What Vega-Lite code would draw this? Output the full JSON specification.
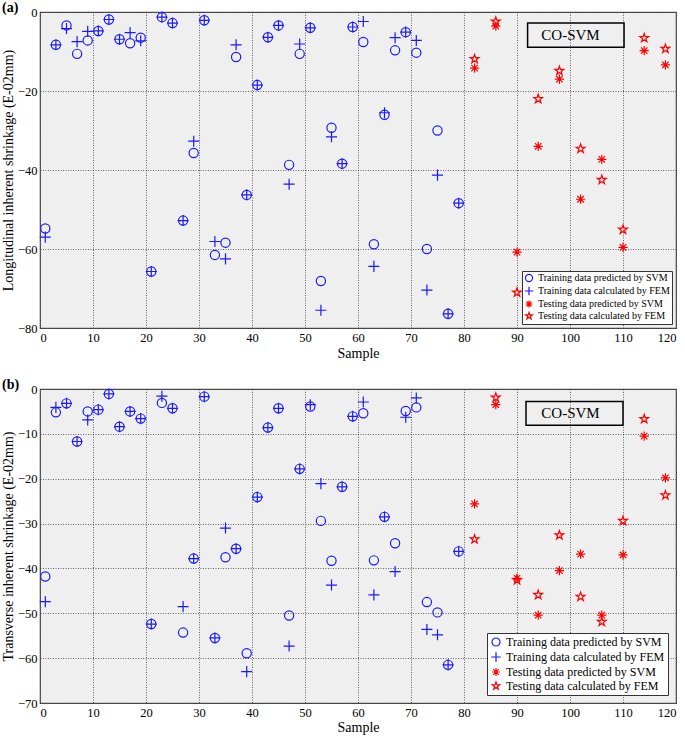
{
  "$schema": "https://vega.github.io/schema/vega-lite/v6.json",
  "background": "white",
  "padding": {"left": 0, "top": 0, "right": 9, "bottom": 0},
  "datasets": {
    "a": [
      {"sample": 1, "TS": -54.8, "TF": -57.0},
      {"sample": 3, "TS": -8.3, "TF": -8.3},
      {"sample": 5, "TS": -3.4, "TF": -4.2},
      {"sample": 7, "TS": -10.6, "TF": -7.5},
      {"sample": 9, "TS": -7.2, "TF": -4.9},
      {"sample": 11, "TS": -4.8, "TF": -4.8},
      {"sample": 13, "TS": -1.9, "TF": -1.9},
      {"sample": 15, "TS": -6.9, "TF": -6.9},
      {"sample": 17, "TS": -7.9, "TF": -5.2},
      {"sample": 19, "TS": -6.5, "TF": -7.3},
      {"sample": 21, "TS": -65.7, "TF": -65.7},
      {"sample": 23, "TS": -1.3, "TF": -1.3},
      {"sample": 25, "TS": -2.8, "TF": -2.8},
      {"sample": 27, "TS": -52.8, "TF": -52.8},
      {"sample": 29, "TS": -35.7, "TF": -32.7},
      {"sample": 31, "TS": -2.1, "TF": -2.1},
      {"sample": 33, "TS": -61.5, "TF": -58.1},
      {"sample": 35, "TS": -58.4, "TF": -62.5},
      {"sample": 37, "TS": -11.4, "TF": -8.3},
      {"sample": 39, "TS": -46.3, "TF": -46.3},
      {"sample": 41, "TS": -18.5, "TF": -18.5},
      {"sample": 43, "TS": -6.4, "TF": -6.4},
      {"sample": 45, "TS": -3.4, "TF": -3.4},
      {"sample": 47, "TS": -38.7, "TF": -43.6},
      {"sample": 49, "TS": -10.6, "TF": -8.1},
      {"sample": 51, "TS": -4.0, "TF": -4.0},
      {"sample": 53, "TS": -68.1, "TF": -75.5},
      {"sample": 55, "TS": -29.3, "TF": -31.6},
      {"sample": 57, "TS": -38.4, "TF": -38.4},
      {"sample": 59, "TS": -3.8, "TF": -3.8},
      {"sample": 61, "TS": -7.6, "TF": -2.4},
      {"sample": 63, "TS": -58.8, "TF": -64.4},
      {"sample": 65, "TS": -26.0, "TF": -25.5},
      {"sample": 67, "TS": -9.7, "TF": -6.5},
      {"sample": 69, "TS": -5.1, "TF": -5.1},
      {"sample": 71, "TS": -10.3, "TF": -7.2},
      {"sample": 73, "TS": -60.0, "TF": -70.4},
      {"sample": 75, "TS": -30.0, "TF": -41.3},
      {"sample": 77, "TS": -76.4, "TF": -76.4},
      {"sample": 79, "TS": -48.4, "TF": -48.4},
      {"sample": 82, "ES": -14.2, "EF": -11.9},
      {"sample": 86, "ES": -3.6, "EF": -2.4},
      {"sample": 90, "ES": -60.8, "EF": -71.0},
      {"sample": 94, "ES": -34.0, "EF": -22.0},
      {"sample": 98, "ES": -17.0, "EF": -14.9},
      {"sample": 102, "ES": -47.4, "EF": -34.6},
      {"sample": 106, "ES": -37.3, "EF": -42.5},
      {"sample": 110, "ES": -59.6, "EF": -55.1},
      {"sample": 114, "ES": -9.8, "EF": -6.6},
      {"sample": 118, "ES": -13.4, "EF": -9.3}
    ],
    "b": [
      {"sample": 1, "TS": -41.8, "TF": -47.4},
      {"sample": 3, "TS": -5.2, "TF": -4.1},
      {"sample": 5, "TS": -3.2, "TF": -3.2},
      {"sample": 7, "TS": -11.7, "TF": -11.7},
      {"sample": 9, "TS": -5.0, "TF": -6.9},
      {"sample": 11, "TS": -4.6, "TF": -4.6},
      {"sample": 13, "TS": -1.1, "TF": -1.1},
      {"sample": 15, "TS": -8.4, "TF": -8.4},
      {"sample": 17, "TS": -5.0, "TF": -5.0},
      {"sample": 19, "TS": -6.6, "TF": -6.6},
      {"sample": 21, "TS": -52.4, "TF": -52.4},
      {"sample": 23, "TS": -3.1, "TF": -1.6},
      {"sample": 25, "TS": -4.3, "TF": -4.3},
      {"sample": 27, "TS": -54.3, "TF": -48.5},
      {"sample": 29, "TS": -37.8, "TF": -37.8},
      {"sample": 31, "TS": -1.7, "TF": -1.7},
      {"sample": 33, "TS": -55.5, "TF": -55.5},
      {"sample": 35, "TS": -37.5, "TF": -31.0},
      {"sample": 37, "TS": -35.6, "TF": -35.6},
      {"sample": 39, "TS": -58.9, "TF": -63.0},
      {"sample": 41, "TS": -24.1, "TF": -24.1},
      {"sample": 43, "TS": -8.6, "TF": -8.6},
      {"sample": 45, "TS": -4.3, "TF": -4.3},
      {"sample": 47, "TS": -50.5, "TF": -57.3},
      {"sample": 49, "TS": -17.8, "TF": -17.8},
      {"sample": 51, "TS": -3.9, "TF": -3.5},
      {"sample": 53, "TS": -29.4, "TF": -21.1},
      {"sample": 55, "TS": -38.3, "TF": -43.7},
      {"sample": 57, "TS": -21.8, "TF": -21.8},
      {"sample": 59, "TS": -6.1, "TF": -6.1},
      {"sample": 61, "TS": -5.4, "TF": -2.9},
      {"sample": 63, "TS": -38.2, "TF": -45.9},
      {"sample": 65, "TS": -28.5, "TF": -28.5},
      {"sample": 67, "TS": -34.4, "TF": -40.7},
      {"sample": 69, "TS": -4.9, "TF": -6.3},
      {"sample": 71, "TS": -4.1, "TF": -2.0},
      {"sample": 73, "TS": -47.5, "TF": -53.6},
      {"sample": 75, "TS": -49.8, "TF": -54.8},
      {"sample": 77, "TS": -61.5, "TF": -61.5},
      {"sample": 79, "TS": -36.2, "TF": -36.2},
      {"sample": 82, "ES": -25.6, "EF": -33.5},
      {"sample": 86, "ES": -3.5, "EF": -1.9},
      {"sample": 90, "ES": -42.2, "EF": -42.6},
      {"sample": 94, "ES": -50.4, "EF": -45.9},
      {"sample": 98, "ES": -40.5, "EF": -32.6},
      {"sample": 102, "ES": -36.8, "EF": -46.3},
      {"sample": 106, "ES": -50.4, "EF": -51.9},
      {"sample": 110, "ES": -37.0, "EF": -29.4},
      {"sample": 114, "ES": -10.5, "EF": -6.7},
      {"sample": 118, "ES": -19.8, "EF": -23.7}
    ]
  },
  "config": {
    "font": "Liberation Serif",
    "view": {"fill": "#efefef", "stroke": "#505050", "strokeWidth": 1.2},
    "axis": {
      "labelFont": "Liberation Serif", "titleFont": "Liberation Serif",
      "labelFontSize": 12.5, "titleFontSize": 14, "titleFontWeight": "normal",
      "labelColor": "black", "titleColor": "black",
      "domain": false, "ticks": false, "labelPadding": 3,
      "gridColor": "#333333", "gridDash": [1, 1.5], "gridOpacity": 0.75, "gridWidth": 1
    },
    "legend": {"labelLimit": 400},
    "title": {"font": "Liberation Serif", "fontSize": 14, "fontWeight": "bold", "anchor": "start", "frame": "group", "color": "black"}
  },
  "spacing": 15,
  "resolve": {"scale": {"color": "independent", "shape": "independent"}},
  "vconcat": [
    {
      "width": 636, "height": 316,
      "title": {"text": "(a)", "dx": -38, "offset": -9},
      "layer": [
        {
          "data": {"name": "a"},
          "transform": [{"fold": ["TS", "TF", "ES", "EF"], "as": ["series", "value"]}, {"filter": "isValid(datum.value)"}],
          "mark": {"type": "point", "filled": false, "size": 85, "strokeWidth": 1.2, "opacity": 1},
          "encoding": {
            "x": {"field": "sample", "type": "quantitative", "title": "Sample", "scale": {"domain": [0, 120], "nice": false},
                  "axis": {"values": [0,5,10,15,20,25,30,35,40,45,50,55,60,65,70,75,80,85,90,95,100,105,110,115,120], "titlePadding": 3}},
            "y": {"field": "value", "type": "quantitative", "title": "Longitudinal inherent shrinkage (E-02mm)", "scale": {"domain": [-80, 0], "nice": false},
                  "axis": {"values": [-80,-70,-60,-50,-40,-30,-20,-10,0], "titlePadding": 2}},
            "color": {"field": "series", "type": "nominal",
                      "scale": {"domain": ["TS", "TF", "ES", "EF"], "range": ["#1a1aff", "#1a1aff", "#ff0000", "#ff0000"]},
                      "legend": {"orient": "bottom-right", "offset": 4, "title": null, "fillColor": "white", "strokeColor": "#333333", "padding": 2, "rowPadding": 0,
                                 "labelFont": "Liberation Serif", "labelFontSize": 10, "labelColor": "black", "symbolSize": 50, "symbolStrokeWidth": 1.2,
                                 "labelExpr": "datum.label == 'TS' ? 'Training data predicted by SVM' : datum.label == 'TF' ? 'Training data calculated by FEM' : datum.label == 'ES' ? 'Testing data predicted by SVM' : 'Testing data calculated by FEM'"}},
            "shape": {"field": "series", "type": "nominal",
                      "scale": {"domain": ["TS", "TF", "ES", "EF"], "range": ["circle", "M-1.2,0L1.2,0M0,-1.2L0,1.2", "M-1,0L1,0M0,-1L0,1M-0.7,-0.7L0.7,0.7M-0.7,0.7L0.7,-0.7", "M0,-1L0.225,-0.309L0.951,-0.309L0.363,0.118L0.588,0.809L0,0.382L-0.588,0.809L-0.363,0.118L-0.951,-0.309L-0.225,-0.309Z"]},
                      "legend": {"orient": "bottom-right", "offset": 4, "title": null, "fillColor": "white", "strokeColor": "#333333", "padding": 2, "rowPadding": 0,
                                 "labelFont": "Liberation Serif", "labelFontSize": 10, "labelColor": "black", "symbolSize": 50, "symbolStrokeWidth": 1.2,
                                 "labelExpr": "datum.label == 'TS' ? 'Training data predicted by SVM' : datum.label == 'TF' ? 'Training data calculated by FEM' : datum.label == 'ES' ? 'Testing data predicted by SVM' : 'Testing data calculated by FEM'"}}
          }
        },
        {
          "data": {"values": [{"x1": 92, "x2": 110.2, "y1": -2.8, "y2": -8.9}]},
          "mark": {"type": "rect", "fill": "transparent", "stroke": "black", "strokeWidth": 1.5},
          "encoding": {"x": {"field": "x1", "type": "quantitative", "title": "Sample"}, "x2": {"field": "x2"}, "y": {"field": "y1", "type": "quantitative", "title": "Longitudinal inherent shrinkage (E-02mm)"}, "y2": {"field": "y2"}}
        },
        {
          "data": {"values": [{"x": 100.1, "y": -5.85, "label": "CO-SVM"}]},
          "mark": {"type": "text", "fontSize": 15, "font": "Liberation Serif", "color": "black"},
          "encoding": {"x": {"field": "x", "type": "quantitative", "title": "Sample"}, "y": {"field": "y", "type": "quantitative", "title": "Longitudinal inherent shrinkage (E-02mm)"}, "text": {"field": "label"}}
        }
      ]
    },
    {
      "width": 636, "height": 314,
      "title": {"text": "(b)", "dx": -38, "offset": -9},
      "layer": [
        {
          "data": {"name": "b"},
          "transform": [{"fold": ["TS", "TF", "ES", "EF"], "as": ["series", "value"]}, {"filter": "isValid(datum.value)"}],
          "mark": {"type": "point", "filled": false, "size": 85, "strokeWidth": 1.2, "opacity": 1},
          "encoding": {
            "x": {"field": "sample", "type": "quantitative", "title": "Sample", "scale": {"domain": [0, 120], "nice": false},
                  "axis": {"values": [0,5,10,15,20,25,30,35,40,45,50,55,60,65,70,75,80,85,90,95,100,105,110,115,120], "titlePadding": 2}},
            "y": {"field": "value", "type": "quantitative", "title": "Transverse inherent shrinkage (E-02mm)", "scale": {"domain": [-70, 0], "nice": false},
                  "axis": {"values": [-70,-60,-50,-40,-30,-20,-10,0], "titlePadding": 2}},
            "color": {"field": "series", "type": "nominal",
                      "scale": {"domain": ["TS", "TF", "ES", "EF"], "range": ["#1a1aff", "#1a1aff", "#ff0000", "#ff0000"]},
                      "legend": {"orient": "bottom-right", "offset": 8, "title": null, "fillColor": "white", "strokeColor": "#333333", "padding": 3, "rowPadding": 0,
                                 "labelFont": "Liberation Serif", "labelFontSize": 12, "labelColor": "black", "symbolSize": 64, "symbolStrokeWidth": 1.2,
                                 "labelExpr": "datum.label == 'TS' ? 'Training data predicted by SVM' : datum.label == 'TF' ? 'Training data calculated by FEM' : datum.label == 'ES' ? 'Testing data predicted by SVM' : 'Testing data calculated by FEM'"}},
            "shape": {"field": "series", "type": "nominal",
                      "scale": {"domain": ["TS", "TF", "ES", "EF"], "range": ["circle", "M-1.2,0L1.2,0M0,-1.2L0,1.2", "M-1,0L1,0M0,-1L0,1M-0.7,-0.7L0.7,0.7M-0.7,0.7L0.7,-0.7", "M0,-1L0.225,-0.309L0.951,-0.309L0.363,0.118L0.588,0.809L0,0.382L-0.588,0.809L-0.363,0.118L-0.951,-0.309L-0.225,-0.309Z"]},
                      "legend": {"orient": "bottom-right", "offset": 8, "title": null, "fillColor": "white", "strokeColor": "#333333", "padding": 3, "rowPadding": 0,
                                 "labelFont": "Liberation Serif", "labelFontSize": 12, "labelColor": "black", "symbolSize": 64, "symbolStrokeWidth": 1.2,
                                 "labelExpr": "datum.label == 'TS' ? 'Training data predicted by SVM' : datum.label == 'TF' ? 'Training data calculated by FEM' : datum.label == 'ES' ? 'Testing data predicted by SVM' : 'Testing data calculated by FEM'"}}
          }
        },
        {
          "data": {"values": [{"x1": 91.7, "x2": 110, "y1": -2.8, "y2": -8.1}]},
          "mark": {"type": "rect", "fill": "transparent", "stroke": "black", "strokeWidth": 1.5},
          "encoding": {"x": {"field": "x1", "type": "quantitative", "title": "Sample"}, "x2": {"field": "x2"}, "y": {"field": "y1", "type": "quantitative", "title": "Transverse inherent shrinkage (E-02mm)"}, "y2": {"field": "y2"}}
        },
        {
          "data": {"values": [{"x": 100.1, "y": -5.45, "label": "CO-SVM"}]},
          "mark": {"type": "text", "fontSize": 15, "font": "Liberation Serif", "color": "black"},
          "encoding": {"x": {"field": "x", "type": "quantitative", "title": "Sample"}, "y": {"field": "y", "type": "quantitative", "title": "Transverse inherent shrinkage (E-02mm)"}, "text": {"field": "label"}}
        }
      ]
    }
  ]
}
